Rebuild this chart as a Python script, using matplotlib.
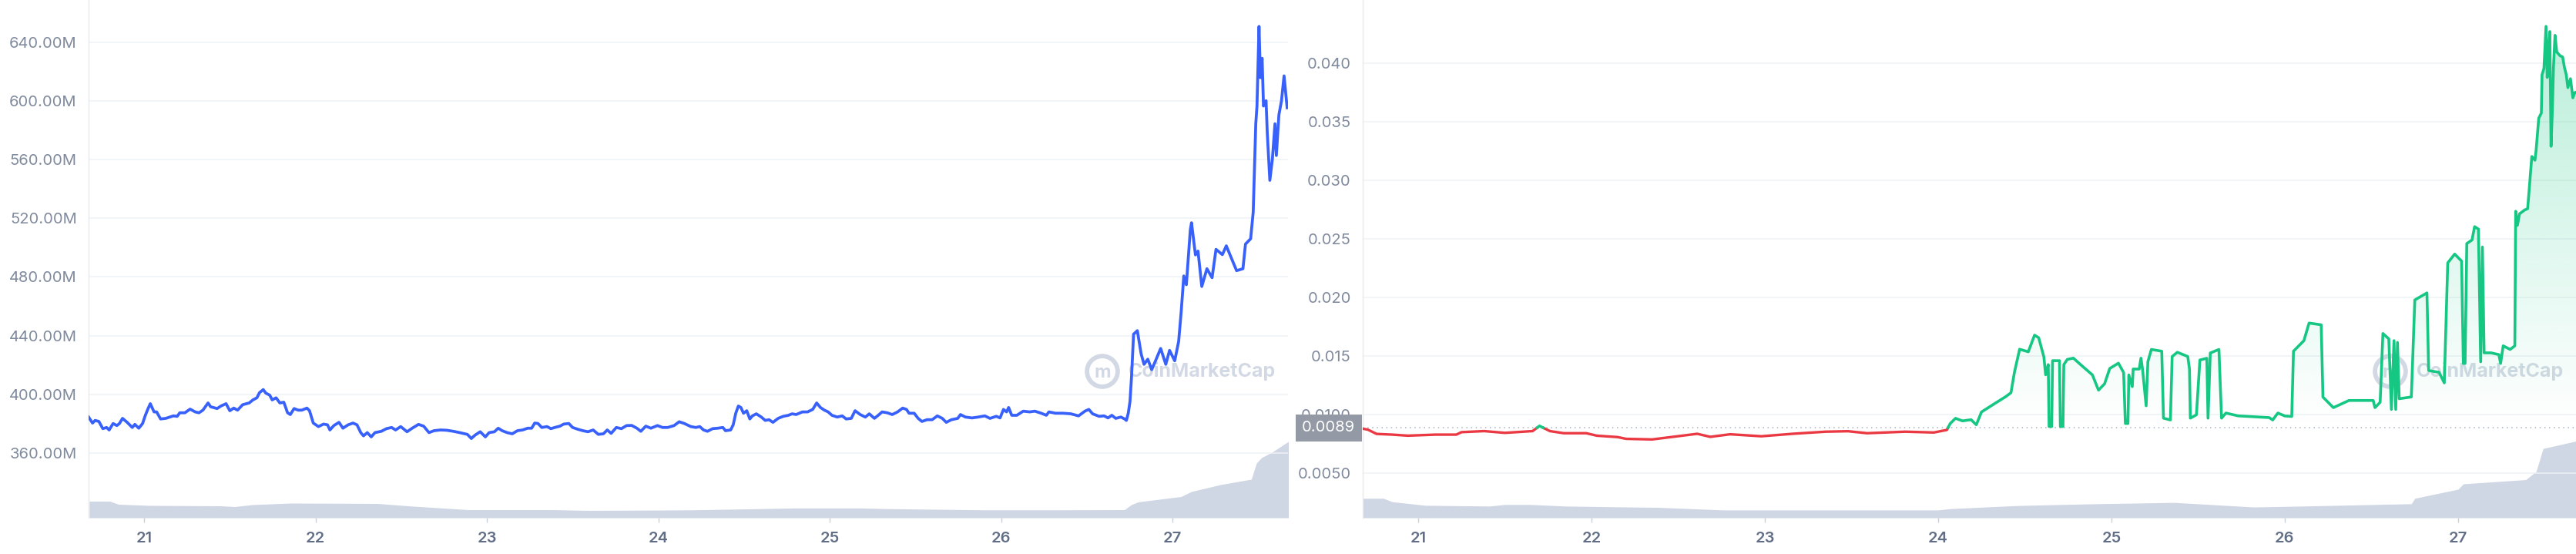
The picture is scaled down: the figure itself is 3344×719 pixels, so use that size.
import numpy as np
import matplotlib
matplotlib.use("Agg")
import matplotlib.pyplot as plt
from matplotlib.path import Path

# ---------------- data ----------------
# Left panel: market cap (USD millions) vs day of month
mcap_days = [
    20.676, 20.699, 20.714, 20.736, 20.759, 20.781, 20.796, 20.819, 20.841, 20.856, 20.874, 20.901,
    20.931, 20.946, 20.969, 20.991, 21.006, 21.021, 21.036, 21.058, 21.073, 21.096, 21.126, 21.171,
    21.193, 21.208, 21.238, 21.268, 21.298, 21.320, 21.343, 21.373, 21.388, 21.426, 21.448, 21.478,
    21.500, 21.523, 21.545, 21.575, 21.613, 21.635, 21.658, 21.673, 21.695, 21.710, 21.733, 21.747,
    21.770, 21.792, 21.815, 21.837, 21.853, 21.875, 21.898, 21.920, 21.950, 21.965, 21.987, 22.017,
    22.047, 22.070, 22.084, 22.107, 22.137, 22.160, 22.190, 22.219, 22.242, 22.264, 22.280, 22.302,
    22.325, 22.347, 22.384, 22.414, 22.444, 22.467, 22.497, 22.534, 22.564, 22.601, 22.631, 22.662,
    22.691, 22.729, 22.766, 22.804, 22.841, 22.871, 22.886, 22.909, 22.931, 22.961, 22.991, 23.013,
    23.044, 23.066, 23.089, 23.118, 23.148, 23.178, 23.208, 23.238, 23.261, 23.279, 23.298, 23.320,
    23.351, 23.373, 23.396, 23.426, 23.448, 23.478, 23.500, 23.530, 23.560, 23.590, 23.620, 23.650,
    23.680, 23.702, 23.725, 23.755, 23.785, 23.815, 23.845, 23.875, 23.898, 23.927, 23.957, 23.995,
    24.025, 24.055, 24.092, 24.122, 24.152, 24.190, 24.219, 24.242, 24.264, 24.287, 24.317, 24.347,
    24.377, 24.392, 24.422, 24.437, 24.452, 24.467, 24.482, 24.497, 24.516, 24.534, 24.549, 24.572,
    24.601, 24.624, 24.646, 24.669, 24.699, 24.729, 24.759, 24.781, 24.804, 24.841, 24.871, 24.901,
    24.924, 24.946, 24.969, 24.991, 25.013, 25.044, 25.073, 25.096, 25.126, 25.148, 25.178, 25.208,
    25.231, 25.261, 25.283, 25.306, 25.336, 25.365, 25.396, 25.426, 25.448, 25.463, 25.493, 25.516,
    25.538, 25.568, 25.598, 25.628, 25.657, 25.680, 25.710, 25.747, 25.763, 25.792, 25.830, 25.867,
    25.905, 25.935, 25.972, 25.994, 26.014, 26.032, 26.044, 26.062, 26.092, 26.129, 26.167, 26.197,
    26.234, 26.264, 26.279, 26.317, 26.362, 26.407, 26.452, 26.489, 26.512, 26.534, 26.572, 26.601,
    26.624, 26.646, 26.669, 26.699, 26.721, 26.731, 26.742, 26.752, 26.761, 26.773, 26.795, 26.817,
    26.834, 26.856, 26.879, 26.901, 26.931, 26.961, 26.983, 27.013, 27.036, 27.051, 27.066, 27.081,
    27.104, 27.111, 27.134, 27.149, 27.171, 27.201, 27.231, 27.254, 27.291, 27.314, 27.344, 27.374,
    27.411, 27.426, 27.456, 27.471, 27.486, 27.493, 27.505, 27.513, 27.523, 27.531, 27.546, 27.553,
    27.568, 27.583, 27.598, 27.606, 27.621, 27.636, 27.651, 27.669]
mcap_musd = [
    384.6, 380.5, 382.3, 381.6, 376.7, 377.5, 375.8, 380.2, 378.8, 380.2, 383.7, 381.0,
    377.5, 379.6, 377.0, 380.2, 385.4, 389.8, 393.7, 388.1, 388.1, 383.3, 383.7, 385.4,
    385.1, 387.5, 387.5, 390.0, 388.1, 387.5, 389.3, 394.2, 391.6, 390.4, 392.1, 393.7,
    388.9, 390.7, 389.3, 393.0, 394.2, 396.3, 397.7, 401.2, 403.3, 400.9, 399.5, 396.3,
    397.7, 394.2, 394.7, 387.5, 386.3, 390.4, 389.3, 389.3, 390.7, 388.9, 380.5, 378.1,
    379.8, 379.3, 375.8, 378.8, 381.0, 377.0, 379.3, 380.5, 379.3, 374.0, 371.8, 374.0,
    371.1, 374.0, 374.9, 376.7, 377.5, 375.8, 378.1, 374.6, 377.0, 379.6, 378.4, 374.0,
    375.3, 375.8, 375.6, 374.9, 374.0, 373.2, 372.8, 370.0, 372.3, 374.6, 371.1, 374.0,
    374.6, 377.0, 375.3, 374.0, 373.2, 375.3, 375.8, 377.0, 377.0, 380.5, 380.2, 377.5,
    378.1, 376.7, 377.5, 378.4, 379.8, 380.2, 377.5, 376.3, 375.3, 374.6, 375.8, 372.8,
    373.2, 375.8, 373.5, 377.5, 376.7, 378.8, 378.9, 377.0, 374.9, 378.4, 377.0, 378.8,
    377.5, 377.5, 378.8, 381.4, 380.2, 378.1, 377.5, 378.1, 375.8, 374.9, 376.7, 377.0,
    377.5, 375.3, 375.8, 379.3, 387.2, 392.1, 391.1, 387.2, 388.9, 383.3, 385.4, 386.8,
    384.6, 382.3, 382.8, 381.0, 383.7, 385.1, 385.8, 386.8, 386.3, 388.1, 388.1, 389.8,
    394.2, 391.1, 389.3, 388.1, 385.8, 384.6, 385.4, 383.3, 383.7, 388.9, 386.3, 384.6,
    386.8, 383.7, 385.8, 388.1, 387.5, 386.3, 388.1, 390.7, 389.8, 387.2, 387.2, 383.7,
    381.6, 382.8, 382.8, 385.4, 383.7, 381.0, 382.8, 383.7, 386.3, 384.6, 384.0, 384.6,
    385.4, 383.7, 385.1, 384.0, 389.8, 388.1, 391.1, 385.8, 385.8, 388.6, 388.1, 388.6,
    387.2, 385.8, 388.1, 387.2, 387.2, 386.8, 385.4, 388.6, 389.8, 386.8, 385.1, 385.4,
    384.0, 385.8, 383.7, 384.6, 383.3, 382.3, 387.2, 395.1, 411.8, 441.0, 443.4, 427.7,
    420.5, 424.0, 416.9, 422.9, 431.3, 420.5, 430.0, 422.9, 436.1, 456.6, 480.7, 474.7,
    512.0, 516.9, 495.0, 497.6, 473.5, 485.6, 479.5, 498.8, 495.2, 501.2, 492.8, 484.3,
    485.6, 502.4, 506.0, 524.1, 584.3, 596.4, 650.6, 615.7, 628.9, 596.4, 600.0, 578.3,
    545.8, 560.3, 584.3, 562.7, 590.4, 600.0, 616.9, 595.2]

# Right panel: price (USD)
price_days = [
    20.68, 20.71, 20.76, 20.85, 20.94, 21.10, 21.22, 21.25, 21.38, 21.50, 21.66, 21.70, 21.76,
    21.84, 21.97, 22.03, 22.15, 22.20, 22.35, 22.52, 22.61, 22.685, 22.80, 22.98, 23.16,
    23.35, 23.48, 23.59, 23.81, 23.975, 24.05, 24.07, 24.10, 24.14, 24.19, 24.22, 24.25,
    24.32, 24.39, 24.42, 24.44, 24.47, 24.52, 24.556, 24.58, 24.61, 24.62, 24.635, 24.64,
    24.655, 24.66, 24.70, 24.705, 24.72, 24.725, 24.745, 24.78, 24.83, 24.89, 24.925,
    24.96, 24.99, 25.04, 25.07, 25.08, 25.095, 25.10, 25.12, 25.125, 25.16, 25.17, 25.18,
    25.20, 25.21, 25.23, 25.29, 25.30, 25.34, 25.35, 25.38, 25.44, 25.45, 25.455, 25.49,
    25.51, 25.55, 25.557, 25.57, 25.62, 25.635, 25.66, 25.73, 25.91, 25.93, 25.96, 26.00,
    26.04, 26.05, 26.09, 26.11, 26.14, 26.21, 26.22, 26.28, 26.37, 26.51, 26.52, 26.55,
    26.566, 26.60, 26.615, 26.63, 26.64, 26.65, 26.66, 26.73, 26.75, 26.82, 26.83, 26.89,
    26.92, 26.94, 26.98, 27.02, 27.03, 27.04, 27.05, 27.08, 27.095, 27.117, 27.13, 27.14,
    27.15, 27.19, 27.235, 27.245, 27.26, 27.30, 27.327, 27.332, 27.342, 27.354, 27.384, 27.401,
    27.410, 27.425, 27.443, 27.450, 27.465, 27.480, 27.484, 27.495, 27.507, 27.514, 27.520,
    27.529, 27.536, 27.544, 27.550, 27.559, 27.569, 27.588, 27.603, 27.613, 27.624, 27.633,
    27.648, 27.662, 27.672, 27.680]
price_usd = [
    0.00882, 0.00873, 0.00837, 0.00831, 0.00822, 0.00831, 0.00831, 0.00852, 0.00861, 0.00846,
    0.00861, 0.00905, 0.00861, 0.00843, 0.00843, 0.00822, 0.00810, 0.00795, 0.00790, 0.00821,
    0.00838, 0.00812, 0.00834, 0.00817, 0.00838, 0.00856, 0.00860, 0.00843, 0.00856, 0.00849,
    0.00871, 0.00926, 0.00970, 0.00948, 0.00958, 0.00915, 0.01024, 0.01090, 0.01155, 0.01188,
    0.01362, 0.01559, 0.01537, 0.01679, 0.01657, 0.01493, 0.01341, 0.01428, 0.00900, 0.00900,
    0.01461, 0.01461, 0.00900, 0.00900, 0.01428, 0.01472, 0.01483, 0.01417, 0.01340, 0.01210,
    0.01264, 0.01395, 0.01440, 0.01360, 0.00926, 0.00926, 0.01340, 0.01240, 0.01390, 0.01390,
    0.01483, 0.01377, 0.01077, 0.01453, 0.01557, 0.01542, 0.00971, 0.00956, 0.01497, 0.01533,
    0.01497, 0.01390, 0.00971, 0.01000, 0.01467, 0.01482, 0.00971, 0.01527, 0.01557, 0.00971,
    0.01015, 0.00991, 0.00976, 0.00956, 0.01015, 0.00990, 0.00986, 0.01542, 0.01602, 0.01632,
    0.01782, 0.01767, 0.01151, 0.01061, 0.01122, 0.01122, 0.01061, 0.01107, 0.01693, 0.01647,
    0.01046, 0.01632, 0.01046, 0.01617, 0.01137, 0.01152, 0.01979, 0.02039, 0.01377, 0.01362,
    0.01272, 0.02295, 0.02370, 0.02310, 0.01438, 0.01438, 0.02460, 0.02490, 0.02604, 0.02583,
    0.01452, 0.02430, 0.01528, 0.01528, 0.01513, 0.01438, 0.01588, 0.01557, 0.01588, 0.02735,
    0.02615, 0.02713, 0.02746, 0.02757, 0.02920, 0.03202, 0.03170, 0.03257, 0.03528, 0.03572,
    0.03898, 0.03952, 0.04311, 0.03876, 0.04093, 0.04267, 0.03289, 0.03615, 0.03963, 0.04235,
    0.04093, 0.04061, 0.04050, 0.03963, 0.03898, 0.03789, 0.03865, 0.03702, 0.03746, 0.03750]
open_price = 0.0089

# Volume (relative units) shown at the bottom of each panel
vol_days_left = [20.68, 20.80, 20.85, 21.03, 21.44, 21.53, 21.63, 21.86, 22.36, 22.57, 22.89, 23.37,
                 23.60, 24.19, 24.47, 24.79, 25.19, 25.31, 25.51, 25.91, 26.32, 26.72, 26.76, 26.80,
                 27.05, 27.11, 27.28, 27.46, 27.49, 27.52, 27.58, 27.68]
vol_left = [21.5, 21.5, 17.5, 16, 15.5, 14.5, 17, 19, 18.5, 15, 10.5, 10.5,
            9.5, 10.2, 11.3, 12.6, 12.6, 11.9, 11.3, 10.2, 10.2, 10.5, 17, 20.6,
            27.5, 34, 43, 50, 71, 78, 85, 99.5]
vol_days_right = [20.68, 20.80, 20.85, 21.04, 21.41, 21.50, 21.65, 21.85, 22.15, 22.39, 22.76, 24.00,
                  24.07, 24.46, 24.85, 25.36, 25.82, 26.10, 26.73, 26.75, 27.00, 27.03, 27.39, 27.45,
                  27.49, 27.68]
vol_right = [25, 25, 20.6, 16, 15, 17, 17, 15, 14, 13.3, 10, 10,
             11.7, 15.7, 17.7, 19.7, 13.8, 15, 18, 25, 36.7, 43.6, 49, 59.6,
             89, 98.6]

day_ticks = [21, 22, 23, 24, 25, 26, 27]
mcap_ticks = [360, 400, 440, 480, 520, 560, 600, 640]
price_ticks = [0.005, 0.010, 0.015, 0.020, 0.025, 0.030, 0.035, 0.040]
price_tick_labels = ["0.0050", "0.0100", "0.015", "0.020", "0.025", "0.030", "0.035", "0.040"]

# ---------------- style ----------------
BLUE = "#3861fb"
GREEN = "#16c784"
RED = "#ea3943"
VOLC = "#cfd6e4"
GRID = "#eff2f5"
YLAB = "#808a9d"
XLAB = "#616e85"
FONT = ["Inter", "DejaVu Sans"]
plt.rcParams["font.family"] = FONT

W, H = 3344, 719
fig = plt.figure(figsize=(W / 100, H / 100), dpi=100)
fig.patch.set_facecolor("white")

ax1 = fig.add_axes([115 / W, 47 / H, 1557 / W, 672 / H])
ax2 = fig.add_axes([1769 / W, 47 / H, 1575 / W, 672 / H])


def style_axes(ax):
    for s in ["top", "right", "bottom"]:
        ax.spines[s].set_visible(False)
    ax.spines["left"].set_color("#e6e9ee")
    ax.spines["left"].set_linewidth(1)
    ax.grid(axis="y", color=GRID, linewidth=1.1)
    ax.set_axisbelow(True)
    ax.tick_params(axis="y", length=0, pad=11, labelsize=14.5, labelcolor=YLAB)
    ax.tick_params(axis="x", length=4, width=1, color="#c9cfd9", pad=9, labelsize=14.5, labelcolor=XLAB)
    ax.set_xticks(day_ticks)
    ax.set_xticklabels([str(d) for d in day_ticks], fontweight="semibold")


def volume(ax, days, vals):
    axv = ax.twinx()
    axv.fill_between(days, 0, vals, color=VOLC, linewidth=0)
    axv.set_ylim(0, max(vals) * 6.75)
    axv.set_yticks([])
    for s in axv.spines.values():
        s.set_visible(False)
    ax.set_zorder(axv.get_zorder() + 1)
    ax.patch.set_visible(False)
    return axv


def watermark(ax, xring, xtext, y):
    ax.scatter([xring], [y], s=820, facecolors="none", edgecolors="#d3d9e4", linewidths=4.2,
               transform=ax.transAxes, zorder=1, clip_on=False)
    ax.text(xring, y - 0.003, "m", transform=ax.transAxes, ha="center", va="center",
            fontsize=17, color="#d3d9e4", fontweight="bold", zorder=1)
    ax.text(xtext, y, "CoinMarketCap", transform=ax.transAxes, ha="left", va="center",
            fontsize=18, color="#d3d9e4", fontweight="bold", zorder=1)


# ---------------- left panel ----------------
style_axes(ax1)
volume(ax1, vol_days_left, vol_left)
ax1.set_xlim(20.676, 27.674)
ax1.set_ylim(316, 668.6)
ax1.set_yticks(mcap_ticks)
ax1.set_yticklabels([f"{v:.2f}M" for v in mcap_ticks])
watermark(ax1, (1431 - 115) / 1557, (1465 - 115) / 1557, (672 - 482) / 672)
ax1.plot(mcap_days, mcap_musd, color=BLUE, linewidth=2.7, solid_joinstyle="round", zorder=3)

# ---------------- right panel ----------------
style_axes(ax2)
volume(ax2, vol_days_right, vol_right)
ax2.set_yticks(price_ticks)
ax2.set_yticklabels(price_tick_labels)
watermark(ax2, (3103 - 1769) / 1575, (3137 - 1769) / 1575, (672 - 482) / 672)

x = np.asarray(price_days, float)
y = np.asarray(price_usd, float)
xs, ys = [x[0]], [y[0]]
for i in range(1, len(x)):
    if (y[i - 1] - open_price) * (y[i] - open_price) < 0:
        t = (open_price - y[i - 1]) / (y[i] - y[i - 1])
        xs.append(x[i - 1] + t * (x[i] - x[i - 1]))
        ys.append(open_price)
    xs.append(x[i])
    ys.append(y[i])
xs = np.array(xs)
ys = np.array(ys)
above = np.where(ys >= open_price, ys, np.nan)
below = np.where(ys <= open_price, ys, np.nan)

# gradient fill under the green part
poly = ax2.fill_between(xs, open_price, ys, where=ys >= open_price, interpolate=True,
                        color="none", linewidth=0)
paths = poly.get_paths()
if paths:
    clip = Path.make_compound_path(*paths)
    n = 256
    grad = np.zeros((n, 1, 4))
    grad[..., 0] = 22 / 255
    grad[..., 1] = 199 / 255
    grad[..., 2] = 132 / 255
    grad[:, 0, 3] = np.linspace(0.0, 0.30, n)
    im = ax2.imshow(grad, extent=[xs[0], xs[-1], open_price, ys.max()], origin="lower",
                    aspect="auto", interpolation="bilinear", zorder=2)
    im.set_clip_path(clip, transform=ax2.transData)

ax2.axhline(open_price, color="#a9b1c0", linewidth=1.1, linestyle=(0, (1, 3)), zorder=2)
ax2.plot(xs, below, color=RED, linewidth=2.4, zorder=3)
ax2.plot(xs, above, color=GREEN, linewidth=2.6, zorder=3)
ax2.set_xlim(20.68, 27.68)
ax2.set_ylim(0.00122, 0.04536)

# open price tag on the axis
ax2.annotate(f"{open_price:.4f}", xy=(0, open_price), xycoords=("axes fraction", "data"),
             xytext=(-7, 0), textcoords="offset points", ha="right", va="center",
             fontsize=14.5, color="white", zorder=20, annotation_clip=False,
             bbox=dict(boxstyle="square,pad=0.42", facecolor="#939aa6", edgecolor="none"))

fig.savefig("out.png", dpi=100, facecolor="white")
